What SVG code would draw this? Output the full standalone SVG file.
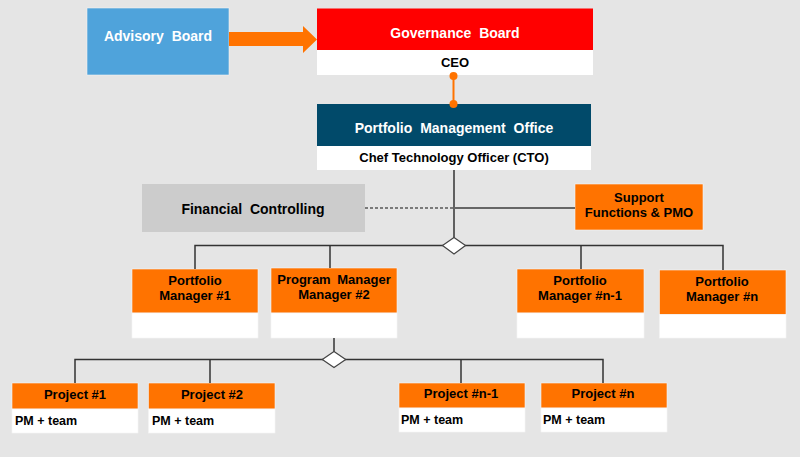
<svg xmlns="http://www.w3.org/2000/svg" width="800" height="457" viewBox="0 0 800 457">
<style>
text{font-family:"Liberation Sans",Arial,sans-serif;font-weight:bold;font-size:13px;text-anchor:middle;fill:#000}
.w{fill:#fff;font-size:14px;word-spacing:4px}
.big{font-size:14px;word-spacing:4px}
.l{text-anchor:start;font-size:12.5px}
.or{fill:#ff7300;stroke:#f4f4f4;stroke-width:0.6}
.wh{fill:#fff;stroke:#f4f4f4;stroke-width:0.6}
.ln{stroke:#333;stroke-width:1.5;fill:none}
.dia{fill:#fff;stroke:#444;stroke-width:1.2}
</style>
<rect width="800" height="457" fill="#e5e5e5"/>
<g id="advisory">
<rect x="87" y="8" width="142" height="67" fill="#4fa3db" stroke="#f0f0f0" stroke-width="0.6"/>
<text class="w" x="158" y="41">Advisory Board</text>
</g>
<g id="governance">
<rect x="317" y="8.5" width="276" height="41.5" fill="#ff0000"/>
<rect x="317" y="50" width="276" height="25" fill="#fff"/>
<text class="w" x="455" y="38">Governance Board</text>
<text x="455" y="66.5">CEO</text>
</g>
<g id="pmo">
<rect x="317" y="104" width="274" height="42" fill="#014a6a"/>
<rect x="317" y="146" width="274" height="24" fill="#fff"/>
<text class="w" x="454" y="133">Portfolio Management Office</text>
<text x="454" y="162">Chef Technology Officer (CTO)</text>
</g>
<g id="financial">
<rect x="142" y="184" width="223" height="48" fill="#cccccc"/>
<text class="big" x="253" y="214">Financial Controlling</text>
</g>
<g id="support">
<rect class="or" x="575" y="184" width="128" height="46"/>
<text x="639" y="201.5">Support</text>
<text x="639" y="216.5">Functions &amp; PMO</text>
</g>
<g id="pm1">
<rect class="or" x="132" y="269" width="126" height="44"/>
<rect class="wh" x="132" y="313" width="126" height="25"/>
<text x="195" y="284.5">Portfolio</text>
<text x="195" y="300">Manager #1</text>
</g>
<g id="pm2">
<rect class="or" x="271" y="268" width="126" height="45"/>
<rect class="wh" x="271" y="313" width="126" height="25"/>
<text x="334" y="283.5" style="word-spacing:3px">Program Manager</text>
<text x="334" y="299">Manager #2</text>
</g>
<g id="pmn1">
<rect class="or" x="517" y="269" width="127" height="44"/>
<rect class="wh" x="517" y="313" width="127" height="25"/>
<text x="580" y="285">Portfolio</text>
<text x="580" y="300">Manager #n-1</text>
</g>
<g id="pmn">
<rect class="or" x="659.5" y="270" width="126.5" height="44.5"/>
<rect class="wh" x="659.5" y="314.5" width="126.5" height="23.5"/>
<text x="722" y="286">Portfolio</text>
<text x="722" y="301">Manager #n</text>
</g>
<g id="project1">
<rect class="or" x="12" y="383" width="126" height="26"/>
<rect class="wh" x="12" y="409" width="126" height="24"/>
<text x="75" y="398.5">Project #1</text>
<text class="l" x="15" y="424.5">PM + team</text>
</g>
<g id="project2">
<rect class="or" x="148.5" y="383" width="126.5" height="26"/>
<rect class="wh" x="148.5" y="409" width="126.5" height="24"/>
<text x="212" y="398.5">Project #2</text>
<text class="l" x="152" y="424.5">PM + team</text>
</g>
<g id="projectn1">
<rect class="or" x="399" y="383" width="126" height="25"/>
<rect class="wh" x="399" y="408" width="126" height="24"/>
<text x="461" y="398">Project #n-1</text>
<text class="l" x="401" y="423.5">PM + team</text>
</g>
<g id="projectn">
<rect class="or" x="541" y="383" width="126" height="25"/>
<rect class="wh" x="541" y="408" width="126" height="24"/>
<text x="603" y="398">Project #n</text>
<text class="l" x="543" y="423.5">PM + team</text>
</g>
<g id="connectors">
<polygon points="229,32 303,32 303,26 317,39.5 303,53 303,46 229,46" fill="#ff7300"/>
<line x1="453.5" y1="76" x2="453.5" y2="104" stroke="#ff7300" stroke-width="2"/>
<circle cx="453.5" cy="76" r="4" fill="#ff7300"/>
<circle cx="453.5" cy="104" r="4" fill="#ff7300"/>
<line class="ln" x1="454" y1="170" x2="454" y2="238"/>
<line x1="454" y1="208" x2="575" y2="208" stroke="#666" stroke-width="2"/>
<line x1="365" y1="208" x2="454" y2="208" stroke="#111" stroke-width="1.2" stroke-dasharray="3,2"/>
<polyline class="ln" points="195,269 195,245.5 723,245.5 723,270"/>
<line class="ln" x1="330" y1="245.5" x2="330" y2="268"/>
<line class="ln" x1="581" y1="245.5" x2="581" y2="269"/>
<polygon class="dia" points="454,237.5 465.5,245.5 454,254 442.5,245.5"/>
<line class="ln" x1="334" y1="338" x2="334" y2="352"/>
<polyline class="ln" points="75,383 75,359.5 603,359.5 603,383"/>
<line class="ln" x1="210" y1="359.5" x2="210" y2="383"/>
<line class="ln" x1="461" y1="359.5" x2="461" y2="383"/>
<polygon class="dia" points="334,351.5 345.7,359.5 334,367.5 322.3,359.5"/>
</g>
</svg>
